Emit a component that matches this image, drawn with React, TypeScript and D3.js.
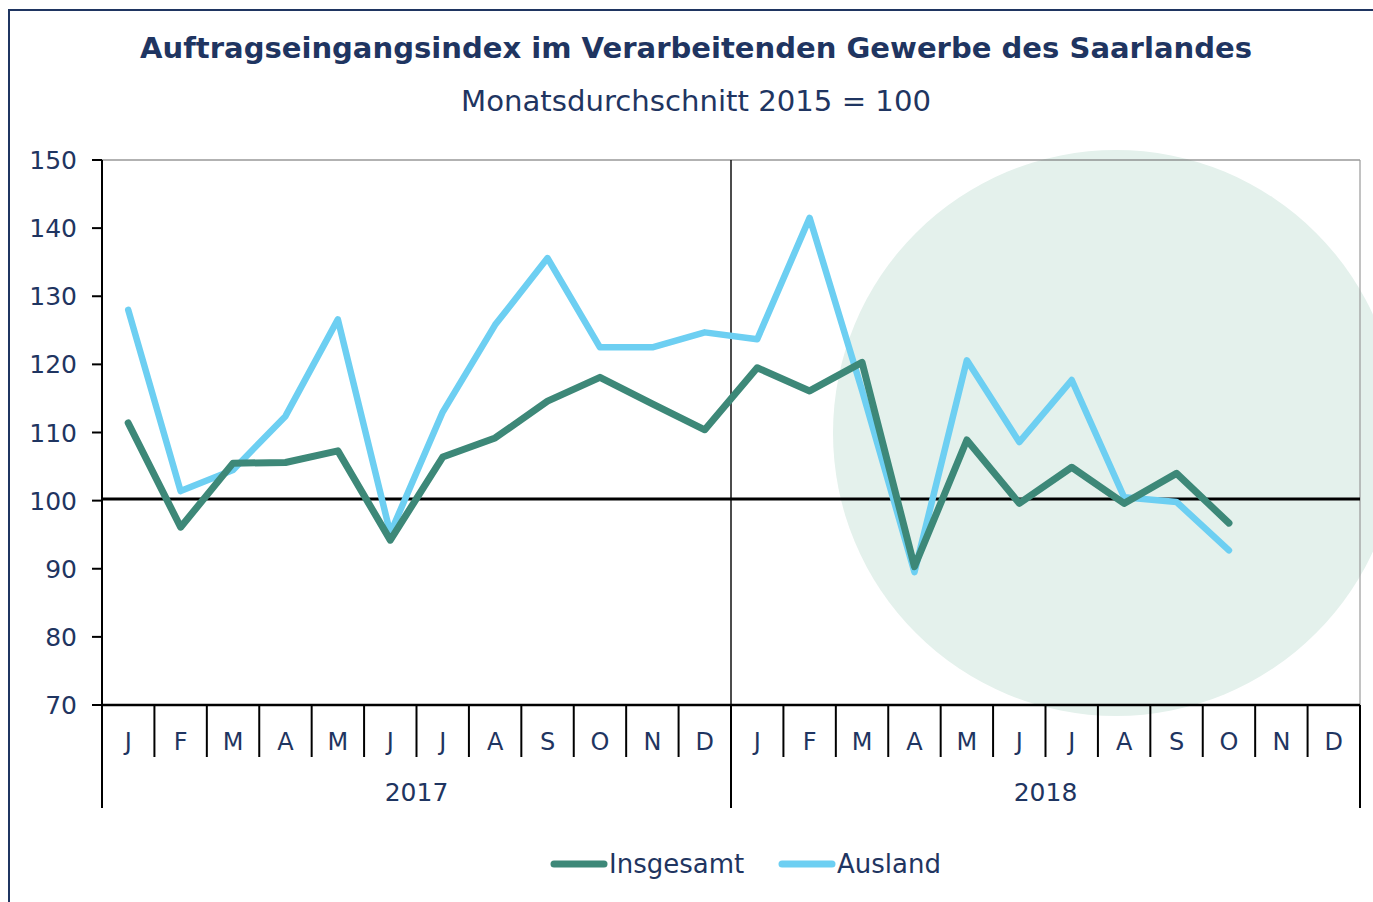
import React from "react";
import * as d3 from "d3";

const months = ["J", "F", "M", "A", "M", "J", "J", "A", "S", "O", "N", "D"];
const years = ["2017", "2018"];
const insgesamt = [111.4, 96.1, 105.5, 105.6, 107.3, 94.2, 106.4, 109.2, 114.6, 118.1, 114.2, 110.4,
  119.5, 116.1, 120.3, 90.3, 108.9, 99.6, 104.9, 99.6, 104.0, 96.7];
const ausland = [128.0, 101.4, 104.5, 112.4, 126.6, 95.2, 113.0, 125.8, 135.6, 122.5, 122.5, 124.7,
  123.7, 141.5, 116.2, 89.5, 120.6, 108.6, 117.7, 100.5, 99.8, 92.7];
const yTicks = [70, 80, 90, 100, 110, 120, 130, 140, 150];
const title = "Auftragseingangsindex im Verarbeitenden Gewerbe des Saarlandes";
const subtitle = "Monatsdurchschnitt 2015 = 100";
const seriesNames = ["Insgesamt", "Ausland"];

const NAVY = "#1f3561";
const DARK = "#3d8878";
const LIGHT = "#6dcff2";
const FONT = "'DejaVu Sans', Verdana, sans-serif";

export default function App() {
  const W = 1373, H = 902;
  const left = 102, right = 1360, top = 160, bottom = 705;
  const nMonths = months.length * years.length;
  const x = d3.scaleLinear().domain([0, nMonths]).range([left, right]);
  const y = d3.scaleLinear().domain([70, 150]).range([bottom, top]);
  const line = d3.line<number>().x((_, i) => x(i + 0.5)).y((d) => y(d));

  const cx = 1116, cy = 433, r = 283;

  return (
    <svg width={W} height={H} style={{ position: "absolute", left: 0, top: 0 }} fontFamily={FONT}>
      <rect x={0} y={0} width={W} height={H} fill="#fff" />
      <rect x={9} y={10} width={W + 20} height={H + 20} fill="none" stroke={NAVY} strokeWidth={2} />
      <text x={140} y={58} textLength={1112} lengthAdjust="spacingAndGlyphs" fontWeight="bold" fontSize={28} fill={NAVY}>{title}</text>
      <text x={461} y={111} textLength={470} lengthAdjust="spacingAndGlyphs" fontSize={28} fill={NAVY}>{subtitle}</text>

      <circle cx={cx} cy={cy} r={r} fill="#e4f1ec" />

      {/* plot frame */}
      <line x1={left} x2={right} y1={top} y2={top} stroke="#666" strokeWidth={1.2} />
      <line x1={right} x2={right} y1={top} y2={bottom} stroke="#999" strokeWidth={1.2} />
      <line x1={x(12)} x2={x(12)} y1={top} y2={808} stroke="#111" strokeWidth={1.5} />

      {/* y axis */}
      <line x1={left} x2={left} y1={top} y2={bottom} stroke="#000" strokeWidth={2} />
      {yTicks.map((t) => (
        <g key={t}>
          <line x1={92} x2={left} y1={y(t)} y2={y(t)} stroke="#000" strokeWidth={2} />
          <text x={77} y={y(t) + 9} textAnchor="end" fontSize={25} fill={NAVY}>{t}</text>
        </g>
      ))}

      {/* reference line at 100 */}
      <line x1={left} x2={right} y1={y(100.25)} y2={y(100.25)} stroke="#000" strokeWidth={3} />

      {/* lines */}
      <path d={line(ausland) || ""} fill="none" stroke={LIGHT} strokeWidth={6.5} strokeLinejoin="round" strokeLinecap="round" />
      <path d={line(insgesamt) || ""} fill="none" stroke={DARK} strokeWidth={7} strokeLinejoin="round" strokeLinecap="round" />

      {/* x axis */}
      <line x1={left} x2={right} y1={bottom} y2={bottom} stroke="#000" strokeWidth={2.5} />
      {d3.range(nMonths + 1).map((i) => (
        <line key={"t" + i} x1={x(i)} x2={x(i)} y1={bottom} y2={i % 12 === 0 ? 808 : 757} stroke="#000" strokeWidth={2} />
      ))}
      {d3.range(nMonths).map((i) => (
        <text key={"m" + i} x={x(i + 0.5)} y={750} textAnchor="middle" fontSize={24} fill={NAVY}>{months[i % 12]}</text>
      ))}
      {years.map((yr, k) => (
        <text key={yr} x={x(k * 12 + 6)} y={801} textAnchor="middle" fontSize={25} fill={NAVY}>{yr}</text>
      ))}

      {/* legend */}
      <line x1={554} x2={604} y1={864} y2={864} stroke={DARK} strokeWidth={7} strokeLinecap="round" />
      <text x={609} y={873} fontSize={26} fill={NAVY}>{seriesNames[0]}</text>
      <line x1={782} x2={832} y1={864} y2={864} stroke={LIGHT} strokeWidth={7} strokeLinecap="round" />
      <text x={837} y={873} fontSize={26} fill={NAVY}>{seriesNames[1]}</text>
    </svg>
  );
}
